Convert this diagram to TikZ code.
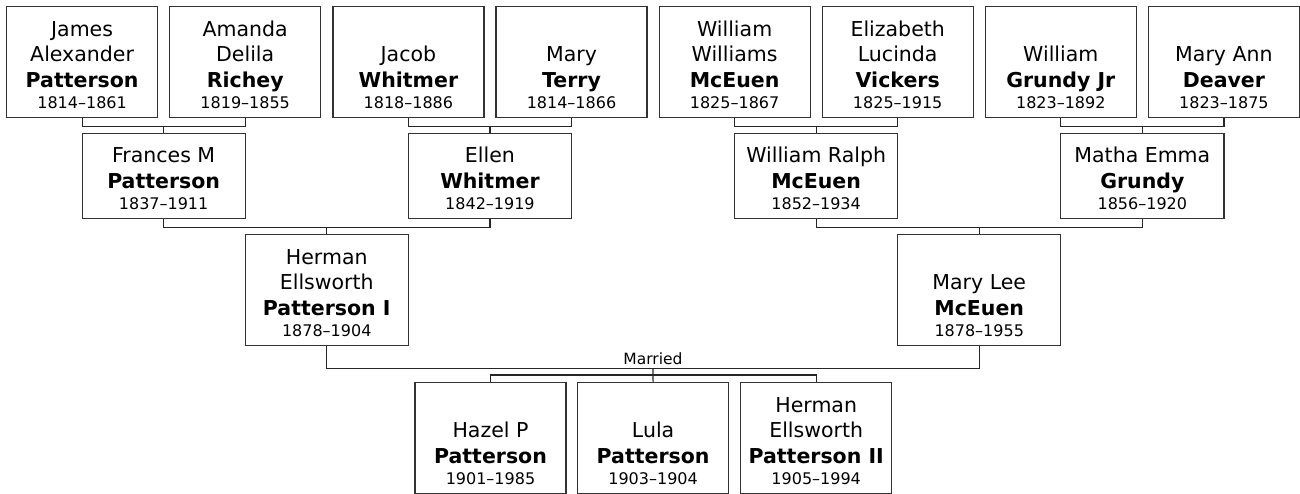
\documentclass[tikz,border=0pt]{standalone}
\usepackage{fontspec}
\setmainfont{DejaVu Sans}
\usetikzlibrary{calc}
\setlength{\parskip}{0pt}
\newcommand{\nmfont}{\fontsize{20.5}{25.5}\selectfont}
\newcommand{\yr}[1]{\par{\fontsize{16}{21.5}\selectfont #1\rule[-9pt]{0pt}{9pt}\par}}
% second argument: box height minus the 9pt depth of the last line
\newcommand{\pbx}[3]{\parbox[c][#2][b]{#1}{\centering\nmfont #3}}
\tikzset{
  pbox/.style={draw=black!80, line width=1.2pt, inner sep=0pt, anchor=north west},
  conn/.style={draw=black!85, line width=1.2pt}
}
\begin{document}
\begin{tikzpicture}[x=1pt,y=-1pt]
\useasboundingbox (0,0) rectangle (1300,494);
% generation 1
\node[pbox] (james) at (6,6) {\pbx{151pt}{102pt}{James\\Alexander\\\textbf{Patterson}\yr{1814–1861}}};
\node[pbox] (amanda) at (169.1,6) {\pbx{151pt}{102pt}{Amanda\\Delila\\\textbf{Richey}\yr{1819–1855}}};
\node[pbox] (jacob) at (332.3,6) {\pbx{151pt}{102pt}{Jacob\\\textbf{Whitmer}\yr{1818–1886}}};
\node[pbox] (maryt) at (495.4,6) {\pbx{151pt}{102pt}{Mary\\\textbf{Terry}\yr{1814–1866}}};
\node[pbox] (williamw) at (658.5,6) {\pbx{151pt}{102pt}{William\\Williams\\\textbf{McEuen}\yr{1825–1867}}};
\node[pbox] (elizabeth) at (821.6,6) {\pbx{151pt}{102pt}{Elizabeth\\Lucinda\\\textbf{Vickers}\yr{1825–1915}}};
\node[pbox] (grundyjr) at (984.7,6) {\pbx{151pt}{102pt}{William\\\textbf{Grundy Jr}\yr{1823–1892}}};
\node[pbox] (deaver) at (1147.8,6) {\pbx{151pt}{102pt}{Mary Ann\\\textbf{Deaver}\yr{1823–1875}}};
% generation 2
\node[pbox] (frances) at (81.5,133) {\pbx{163.1pt}{76pt}{Frances M\\\textbf{Patterson}\yr{1837–1911}}};
\node[pbox] (ellen) at (407.8,133) {\pbx{163.1pt}{76pt}{Ellen\\\textbf{Whitmer}\yr{1842–1919}}};
\node[pbox] (ralph) at (734,133) {\pbx{163.1pt}{76pt}{William Ralph\\\textbf{McEuen}\yr{1852–1934}}};
\node[pbox] (matha) at (1060.2,133) {\pbx{163.1pt}{76pt}{Matha Emma\\\textbf{Grundy}\yr{1856–1920}}};
% generation 3
\node[pbox] (hermani) at (244.6,234) {\pbx{163.1pt}{102pt}{Herman\\Ellsworth\\\textbf{Patterson I}\yr{1878–1904}}};
\node[pbox] (marylee) at (897.1,234) {\pbx{163.1pt}{102pt}{Mary Lee\\\textbf{McEuen}\yr{1878–1955}}};
% children
\node[pbox] (hazel) at (414.4,382) {\pbx{151pt}{102pt}{Hazel P\\\textbf{Patterson}\yr{1901–1985}}};
\node[pbox] (lula) at (577,382) {\pbx{151pt}{102pt}{Lula\\\textbf{Patterson}\yr{1903–1904}}};
\node[pbox] (hermanii) at (740.1,382) {\pbx{151pt}{102pt}{Herman\\Ellsworth\\\textbf{Patterson II}\yr{1905–1994}}};
% connectors generation 1 -> 2
\draw[conn] (james.south) -- ++(0,8) coordinate (b1) -| (amanda.south);
\draw[conn] (b1 -| frances.north) -- (frances.north);
\draw[conn] (jacob.south) -- ++(0,8) coordinate (b2) -| (maryt.south);
\draw[conn] (b2 -| ellen.north) -- (ellen.north);
\draw[conn] (williamw.south) -- ++(0,8) coordinate (b3) -| (elizabeth.south);
\draw[conn] (b3 -| ralph.north) -- (ralph.north);
\draw[conn] (grundyjr.south) -- ++(0,8) coordinate (b4) -| (deaver.south);
\draw[conn] (b4 -| matha.north) -- (matha.north);
% generation 2 -> 3
\draw[conn] (frances.south) -- ++(0,8) coordinate (c1) -| (ellen.south);
\draw[conn] (c1 -| hermani.north) -- (hermani.north);
\draw[conn] (ralph.south) -- ++(0,8) coordinate (c2) -| (matha.south);
\draw[conn] (c2 -| marylee.north) -- (marylee.north);
% marriage
\draw[conn] (hermani.south) -- ++(0,22) coordinate (m1) -| (marylee.south);
\coordinate (mm) at ($(m1)!0.5!(m1 -| marylee.south)$);
\node[anchor=base, inner sep=0pt, font=\fontsize{15.5}{18}\selectfont] (married) at ($(mm)+(0,-4)$) {Married};
\draw[conn] (mm) -- (lula.north);
\draw[conn] (hazel.north) -- ++(0,-7) -| (hermanii.north);
\end{tikzpicture}
\end{document}
